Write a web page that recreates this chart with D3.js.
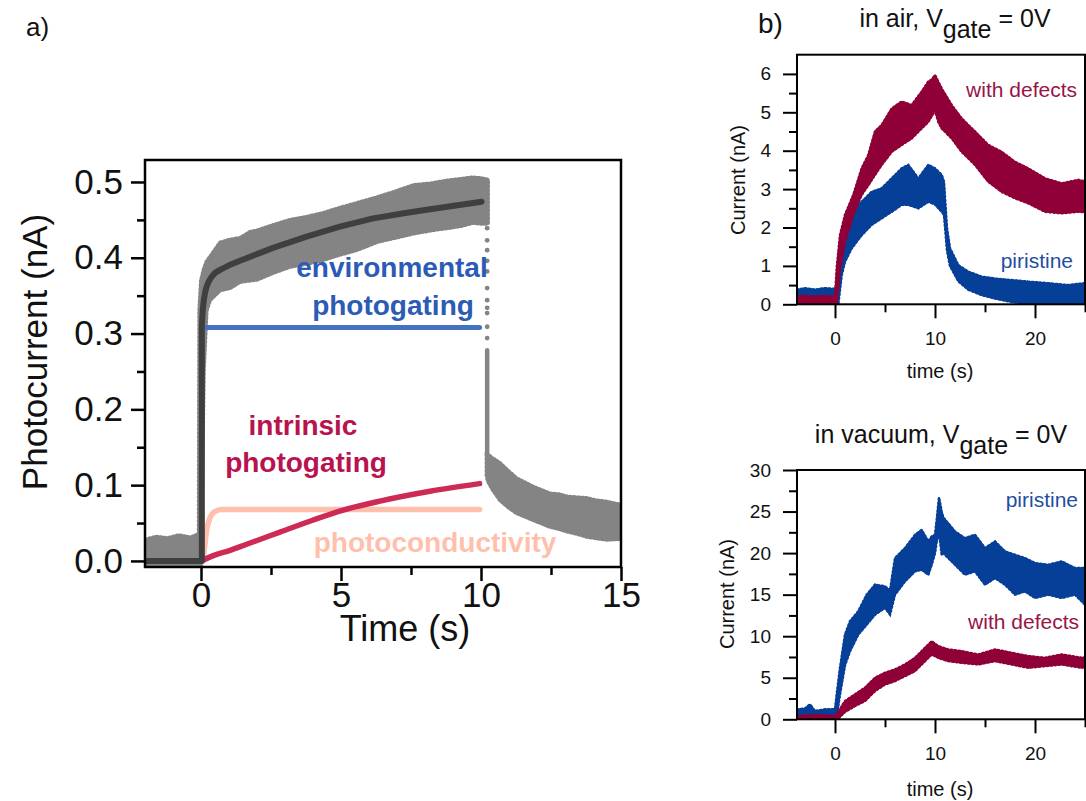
<!DOCTYPE html>
<html lang="en">
<head>
<meta charset="UTF-8" />
<title>Photocurrent transients</title>
<script src="https://cdn.jsdelivr.net/npm/d3@7"></script>
<style>
  body { margin: 0; background: #fff; }
  svg { display: block; font-family: "Liberation Sans", Arial, sans-serif; }
  .axis path.domain { display: none; }
</style>
</head>
<body>
<svg id="fig" width="1086" height="801"></svg>
<script>
// ---------- panel a : measured photocurrent (grey band) ----------
const onT  = [-2.0, -1.6, -1.2, -0.8, -0.4, -0.08, -0.06, 0.0, 0.1, 0.2, 0.32, 0.68, 1.04, 1.39, 1.75, 2.0, 2.57, 3.18, 3.77, 4.36, 4.96, 5.55, 6.3, 6.9, 7.6, 8.2, 8.8, 9.3, 9.7, 10.0, 10.25];
const onHi = [0.028, 0.032, 0.030, 0.034, 0.031, 0.035, 0.33, 0.37, 0.385, 0.395, 0.401, 0.42, 0.424, 0.426, 0.434, 0.436, 0.443, 0.45, 0.454, 0.459, 0.466, 0.472, 0.48, 0.487, 0.496, 0.498, 0.502, 0.504, 0.506, 0.505, 0.503];
const onLo = [-0.008, -0.008, -0.008, -0.008, -0.008, -0.008, -0.008, -0.008, 0.25, 0.33, 0.344, 0.357, 0.36, 0.368, 0.37, 0.371, 0.38, 0.388, 0.392, 0.397, 0.404, 0.41, 0.421, 0.426, 0.432, 0.436, 0.439, 0.442, 0.446, 0.445, 0.445];

const offT  = [10.2, 10.25, 10.4, 10.68, 11.0, 11.27, 11.6, 11.86, 12.2, 12.46, 12.8, 13.06, 13.4, 13.77, 14.1, 14.5, 15.0];
const offHi = [0.142, 0.14, 0.136, 0.129, 0.118, 0.109, 0.103, 0.098, 0.093, 0.089, 0.088, 0.085, 0.084, 0.083, 0.08, 0.078, 0.074];
const offLo = [0.112, 0.105, 0.095, 0.08, 0.07, 0.063, 0.058, 0.054, 0.049, 0.045, 0.042, 0.039, 0.036, 0.032, 0.03, 0.028, 0.029];

// sparse points while the light is switched off
const dropT = 10.22;
const dropDots = [0.439, 0.423, 0.41, 0.396, 0.382, 0.36, 0.344, 0.334, 0.327, 0.309, 0.294];
const dropSolid = [0.278, 0.142];

// fit and its three components
const fitT = [-2.0, 0.03, 0.03, 0.06, 0.1, 0.15, 0.2, 0.28, 0.38, 0.5, 0.68, 1.0, 1.39, 2.57, 3.77, 4.96, 6.15, 7.3, 8.18, 9.1, 10.02];
const fitV = [0, 0, 0.31, 0.33, 0.344, 0.355, 0.362, 0.369, 0.375, 0.38, 0.384, 0.39, 0.396, 0.413, 0.428, 0.441, 0.452, 0.459, 0.464, 0.469, 0.474];
const envT = [0.15, 9.95];
const envV = [0.308, 0.308];
const pcT = [0.08, 0.15, 0.2, 0.3, 0.4, 0.55, 0.7, 1.2, 9.95];
const pcV = [0.004, 0.025, 0.04, 0.055, 0.062, 0.066, 0.068, 0.068, 0.068];
const intT = [0.08, 0.44, 1.04, 1.63, 2.82, 4.01, 5.08, 6.39, 8.18, 9.95];
const intV = [0.001, 0.007, 0.014, 0.022, 0.038, 0.054, 0.067, 0.079, 0.092, 0.102];

const aYTicks = [0, 0.1, 0.2, 0.3, 0.4, 0.5];
const aYMinor = [0.05, 0.15, 0.25, 0.35, 0.45];
const aXTicks = [0, 5, 10, 15];
const aXMinor = [2.5, 7.5, 12.5];

// ---------- panel b : in air ----------
const airDefT  = [-3.8, -3.0, -2.0, -1.0, 0.0, 0.17, 0.5, 1.0, 1.83, 2.67, 3.33, 4.0, 4.67, 5.67, 6.67, 7.67, 8.67, 9.33, 9.67, 10.0, 10.33, 10.67, 11.67, 12.67, 14.0, 15.33, 16.67, 18.0, 19.33, 21.0, 22.67, 24.33, 25.0];
const airDefHi = [0.2, 0.22, 0.2, 0.22, 0.2, 0.94, 1.8, 2.33, 2.85, 3.54, 3.89, 4.5, 4.67, 5.1, 5.28, 5.19, 5.54, 5.8, 5.85, 5.97, 5.8, 5.62, 5.19, 4.84, 4.5, 4.15, 3.97, 3.71, 3.54, 3.28, 3.15, 3.24, 3.2];
const airDefLo = [-0.05, -0.05, -0.05, -0.05, -0.05, 0.0, 0.94, 1.63, 2.33, 2.85, 3.1, 3.37, 3.63, 3.97, 4.15, 4.32, 4.58, 4.75, 4.9, 5.05, 4.75, 4.58, 4.32, 3.97, 3.63, 3.19, 2.93, 2.76, 2.63, 2.41, 2.37, 2.41, 2.4];

const airPriT  = [-3.8, -3.0, -2.0, -1.0, 0.0, 0.17, 0.33, 0.67, 1.0, 1.67, 2.67, 3.67, 4.67, 5.67, 6.67, 7.33, 8.33, 9.33, 10.0, 10.67, 10.9, 11.2, 11.5, 12.33, 13.33, 14.67, 16.0, 17.67, 19.33, 21.3, 23.3, 25.0];
const airPriHi = [0.38, 0.42, 0.38, 0.42, 0.4, 0.5, 0.94, 1.37, 1.89, 2.41, 2.67, 2.93, 3.02, 3.28, 3.54, 3.63, 3.28, 3.63, 3.54, 3.37, 3.19, 1.98, 1.46, 1.02, 0.85, 0.72, 0.67, 0.63, 0.59, 0.55, 0.5, 0.55];
const airPriLo = [-0.05, -0.05, -0.05, -0.05, -0.05, -0.05, 0.0, 0.76, 1.11, 1.46, 1.8, 2.07, 2.24, 2.41, 2.59, 2.59, 2.5, 2.67, 2.6, 2.41, 2.33, 1.4, 1.0, 0.6, 0.38, 0.24, 0.15, 0.06, 0.0, 0.0, 0.0, 0.0];

// ---------- panel b : in vacuum ----------
const vacPriT  = [-3.8, -3.0, -2.5, -2.0, -1.0, 0.0, 0.17, 0.5, 1.0, 1.5, 2.33, 3.17, 4.0, 5.0, 5.5, 6.0, 7.0, 8.0, 8.67, 9.33, 9.67, 10.0, 10.17, 10.4, 10.67, 10.83, 12.0, 13.0, 14.0, 15.0, 16.0, 17.0, 18.0, 19.0, 20.0, 21.33, 22.67, 24.0, 25.0];
const vacPriHi = [1.2, 1.3, 1.8, 1.0, 1.2, 1.2, 3.0, 6.2, 10.2, 11.8, 13.0, 15.0, 16.2, 16.0, 15.5, 19.4, 20.6, 22.2, 22.8, 21.4, 22.0, 22.2, 24.0, 26.7, 25.0, 24.3, 22.6, 21.8, 22.2, 20.6, 21.4, 20.2, 19.8, 19.4, 18.8, 18.6, 19.0, 18.2, 18.2];
const vacPriLo = [0.1, 0.1, 0.1, 0.1, 0.1, 0.1, 0.3, 3.0, 6.5, 8.2, 10.2, 11.4, 12.6, 13.4, 12.6, 15.0, 16.6, 17.8, 18.0, 17.4, 18.6, 20.0, 21.4, 22.5, 19.8, 20.0, 18.6, 17.4, 17.8, 16.2, 17.0, 16.2, 15.0, 15.4, 14.6, 15.0, 14.6, 15.0, 13.8];

const vacDefT  = [-3.8, -2.0, 0.0, 0.17, 1.0, 2.0, 3.0, 4.0, 5.0, 6.0, 7.0, 8.0, 9.0, 9.67, 10.33, 11.33, 12.67, 14.33, 16.0, 17.67, 19.33, 21.0, 22.67, 24.67, 25.0];
const vacDefHi = [0.4, 0.5, 0.4, 0.6, 2.2, 3.0, 3.8, 5.0, 5.6, 6.0, 6.6, 7.4, 8.6, 9.4, 8.8, 8.4, 8.2, 7.8, 8.4, 8.0, 7.6, 7.4, 7.8, 7.4, 7.5];
const vacDefLo = [-0.1, -0.1, -0.1, -0.1, 0.9, 1.6, 2.2, 3.4, 4.2, 4.6, 5.2, 5.8, 7.0, 7.8, 7.4, 7.0, 6.8, 6.6, 7.0, 6.6, 6.2, 6.4, 6.6, 6.2, 6.3];

const bXTicks = [0, 10, 20];
const bXMinor = [5, 15, 25];
const airYTicks = [0, 1, 2, 3, 4, 5, 6];
const airYMinor = [0.5, 1.5, 2.5, 3.5, 4.5, 5.5];
const vacYTicks = [0, 5, 10, 15, 20, 25, 30];
const vacYMinor = [2.5, 7.5, 12.5, 17.5, 22.5, 27.5];

const svg = d3.select("#fig");

function zip(T, V) { return T.map((t, i) => [t, V[i]]); }
function band(T, Hi, Lo) { return T.map((t, i) => ({ t: t, hi: Hi[i], lo: Lo[i] })); }

// filled envelope of a noisy trace; a dashed outline gives the ragged edge of the raw points
function drawBand(g, x, y, rows, color, fuzz) {
    const area = d3.area().x(d => x(d.t)).y0(d => y(d.lo)).y1(d => y(d.hi));
    g.append("path").datum(rows)
        .attr("d", area)
        .attr("fill", color)
        .attr("stroke", color)
        .attr("stroke-width", 1.2)
        .attr("stroke-linejoin", "round");
    g.append("path").datum(rows)
        .attr("d", area)
        .attr("fill", "none")
        .attr("stroke", color)
        .attr("stroke-width", fuzz)
        .attr("stroke-dasharray", "1.5 2.5")
        .attr("stroke-linecap", "round");
}

function drawLine(g, x, y, pts, color, w, curve) {
    const line = d3.line().x(d => x(d[0])).y(d => y(d[1])).curve(curve || d3.curveLinear);
    g.append("path").datum(pts)
        .attr("d", line)
        .attr("fill", "none")
        .attr("stroke", color)
        .attr("stroke-width", w)
        .attr("stroke-linecap", "round")
        .attr("stroke-linejoin", "round");
}

function drawAxes(x, y, o) {
    const [x0, x1] = x.range(), [y0, y1] = y.range();
    const bottom = svg.append("g").attr("class", "axis").attr("transform", `translate(0,${y0})`);
    bottom.call(d3.axisBottom(x).tickValues(o.xt).tickSize(o.major).tickPadding(o.xpad));
    const bottomMinor = svg.append("g").attr("class", "axis").attr("transform", `translate(0,${y0})`);
    bottomMinor.call(d3.axisBottom(x).tickValues(o.xm).tickSize(o.minor).tickFormat(""));
    const left = svg.append("g").attr("class", "axis").attr("transform", `translate(${x0},0)`);
    left.call(d3.axisLeft(y).tickValues(o.yt).tickSize(o.major).tickPadding(o.ypad).tickFormat(o.yfmt));
    const leftMinor = svg.append("g").attr("class", "axis").attr("transform", `translate(${x0},0)`);
    leftMinor.call(d3.axisLeft(y).tickValues(o.ym).tickSize(o.minor).tickFormat(""));

    [bottom, bottomMinor, left, leftMinor].forEach(g => {
        g.attr("font-family", null).attr("font-size", o.font);
        g.selectAll("line").attr("stroke", "#000").attr("stroke-width", o.lw);
        g.selectAll("text").attr("fill", "#111");
    });

    svg.append("rect")
        .attr("x", x0).attr("y", y1)
        .attr("width", x1 - x0).attr("height", y0 - y1)
        .attr("fill", "none").attr("stroke", "#000").attr("stroke-width", o.lw);
}

function label(txt, x, y, size, color, anchor, weight) {
    return svg.append("text")
        .attr("x", x).attr("y", y)
        .attr("font-size", size)
        .attr("font-weight", weight || "normal")
        .attr("text-anchor", anchor || "middle")
        .attr("fill", color || "#111")
        .text(txt);
}

// ================= panel a =================
const ax = d3.scaleLinear().domain([-2, 15]).range([145, 621]);
const ay = d3.scaleLinear().domain([-0.008, 0.529]).range([567, 160]);

svg.append("clipPath").attr("id", "clipA")
    .append("rect").attr("x", 145).attr("y", 160).attr("width", 476).attr("height", 407);
const ga = svg.append("g").attr("clip-path", "url(#clipA)");

const grey = "#848484";
drawBand(ga, ax, ay, band(onT, onHi, onLo), grey, 4);
drawBand(ga, ax, ay, band(offT, offHi, offLo), grey, 4);
ga.selectAll("circle.drop").data(dropDots).enter().append("circle")
    .attr("class", "drop")
    .attr("cx", ax(dropT)).attr("cy", d => ay(d)).attr("r", 2.4)
    .attr("fill", grey);
drawLine(ga, ax, ay, [[dropT, dropSolid[0]], [dropT, dropSolid[1]]], grey, 4.5);

drawLine(ga, ax, ay, zip(envT, envV), "#4472c0", 5);
drawLine(ga, ax, ay, zip(pcT, pcV), "#ffbfad", 5.5, d3.curveMonotoneX);
drawLine(ga, ax, ay, zip(intT, intV), "#cd2b55", 5.5, d3.curveMonotoneX);
drawLine(ga, ax, ay, zip(fitT, fitV), "#3f3f3f", 6);

label("environmental", 392, 277, 28, "#2c5bb5", "middle", "bold");
label("photogating", 393, 315, 28, "#2c5bb5", "middle", "bold");
label("intrinsic", 303, 435, 28, "#b8124f", "middle", "bold");
label("photogating", 306, 472, 28, "#b8124f", "middle", "bold");
label("photoconductivity", 435, 552, 28, "#ffbfad", "middle", "bold");

drawAxes(ax, ay, {
    xt: aXTicks, xm: aXMinor, yt: aYTicks, ym: aYMinor,
    major: 14, minor: 8, xpad: 1, ypad: 8, yfmt: d3.format(".1f"),
    font: 35, lw: 2.5
});

svg.append("text")
    .attr("transform", "translate(47,352) rotate(-90)")
    .attr("text-anchor", "middle").attr("font-size", 35).attr("fill", "#111")
    .text("Photocurrent (nA)");
label("Time (s)", 405, 641, 36);
label("a)", 26, 36, 26, "#111", "start");

// ================= panel b =================
const bx = d3.scaleLinear().domain([-3.8, 25]).range([797, 1085]);

function titleSub(pre, x, y) {
    const t = svg.append("text").attr("x", x).attr("y", y)
        .attr("text-anchor", "middle").attr("font-size", 25).attr("fill", "#111")
        .style("white-space", "pre");
    t.append("tspan").text(pre);
    t.append("tspan").attr("dy", 11).text("gate");
    t.append("tspan").attr("dy", -11).text(" = 0V");
}

const red = "#8e0037", blue = "#063f98";

// --- in air ---
const byAir = d3.scaleLinear().domain([0, 6.5]).range([304.3, 54.7]);
svg.append("clipPath").attr("id", "clipB1")
    .append("rect").attr("x", 797).attr("y", 54.7).attr("width", 288).attr("height", 249.6);
const gb1 = svg.append("g").attr("clip-path", "url(#clipB1)");
drawBand(gb1, bx, byAir, band(airPriT, airPriHi, airPriLo), blue, 2.5);
drawBand(gb1, bx, byAir, band(airDefT, airDefHi, airDefLo), red, 2.5);

label("with defects", 1077, 97, 21, "#981548", "end");
label("piristine", 1073, 268, 21, "#1f4ea3", "end");

drawAxes(bx, byAir, {
    xt: bXTicks, xm: bXMinor, yt: airYTicks, ym: airYMinor,
    major: 14, minor: 8, xpad: 13, ypad: 12, yfmt: d3.format("d"),
    font: 19, lw: 2
});
svg.append("text")
    .attr("transform", "translate(745,180) rotate(-90)")
    .attr("text-anchor", "middle").attr("font-size", 20).attr("fill", "#111")
    .text("Current (nA)");
label("time (s)", 940, 378, 20);
titleSub("in air, V", 955, 27);
label("b)", 758, 33, 28, "#111", "start");

// --- in vacuum ---
const byVac = d3.scaleLinear().domain([0, 30]).range([719.3, 470]);
svg.append("clipPath").attr("id", "clipB2")
    .append("rect").attr("x", 797).attr("y", 470).attr("width", 288).attr("height", 249.3);
const gb2 = svg.append("g").attr("clip-path", "url(#clipB2)");
drawBand(gb2, bx, byVac, band(vacPriT, vacPriHi, vacPriLo), blue, 2.5);
drawBand(gb2, bx, byVac, band(vacDefT, vacDefHi, vacDefLo), red, 2.5);

label("piristine", 1078, 507, 21, "#1f4ea3", "end");
label("with defects", 1079, 629, 21, "#981548", "end");

drawAxes(bx, byVac, {
    xt: bXTicks, xm: bXMinor, yt: vacYTicks, ym: vacYMinor,
    major: 14, minor: 8, xpad: 13, ypad: 12, yfmt: d3.format("d"),
    font: 19, lw: 2
});
svg.append("text")
    .attr("transform", "translate(734,594) rotate(-90)")
    .attr("text-anchor", "middle").attr("font-size", 20).attr("fill", "#111")
    .text("Current (nA)");
label("time (s)", 940, 796, 20);
titleSub("in vacuum, V", 941, 443);
</script>
</body>
</html>
